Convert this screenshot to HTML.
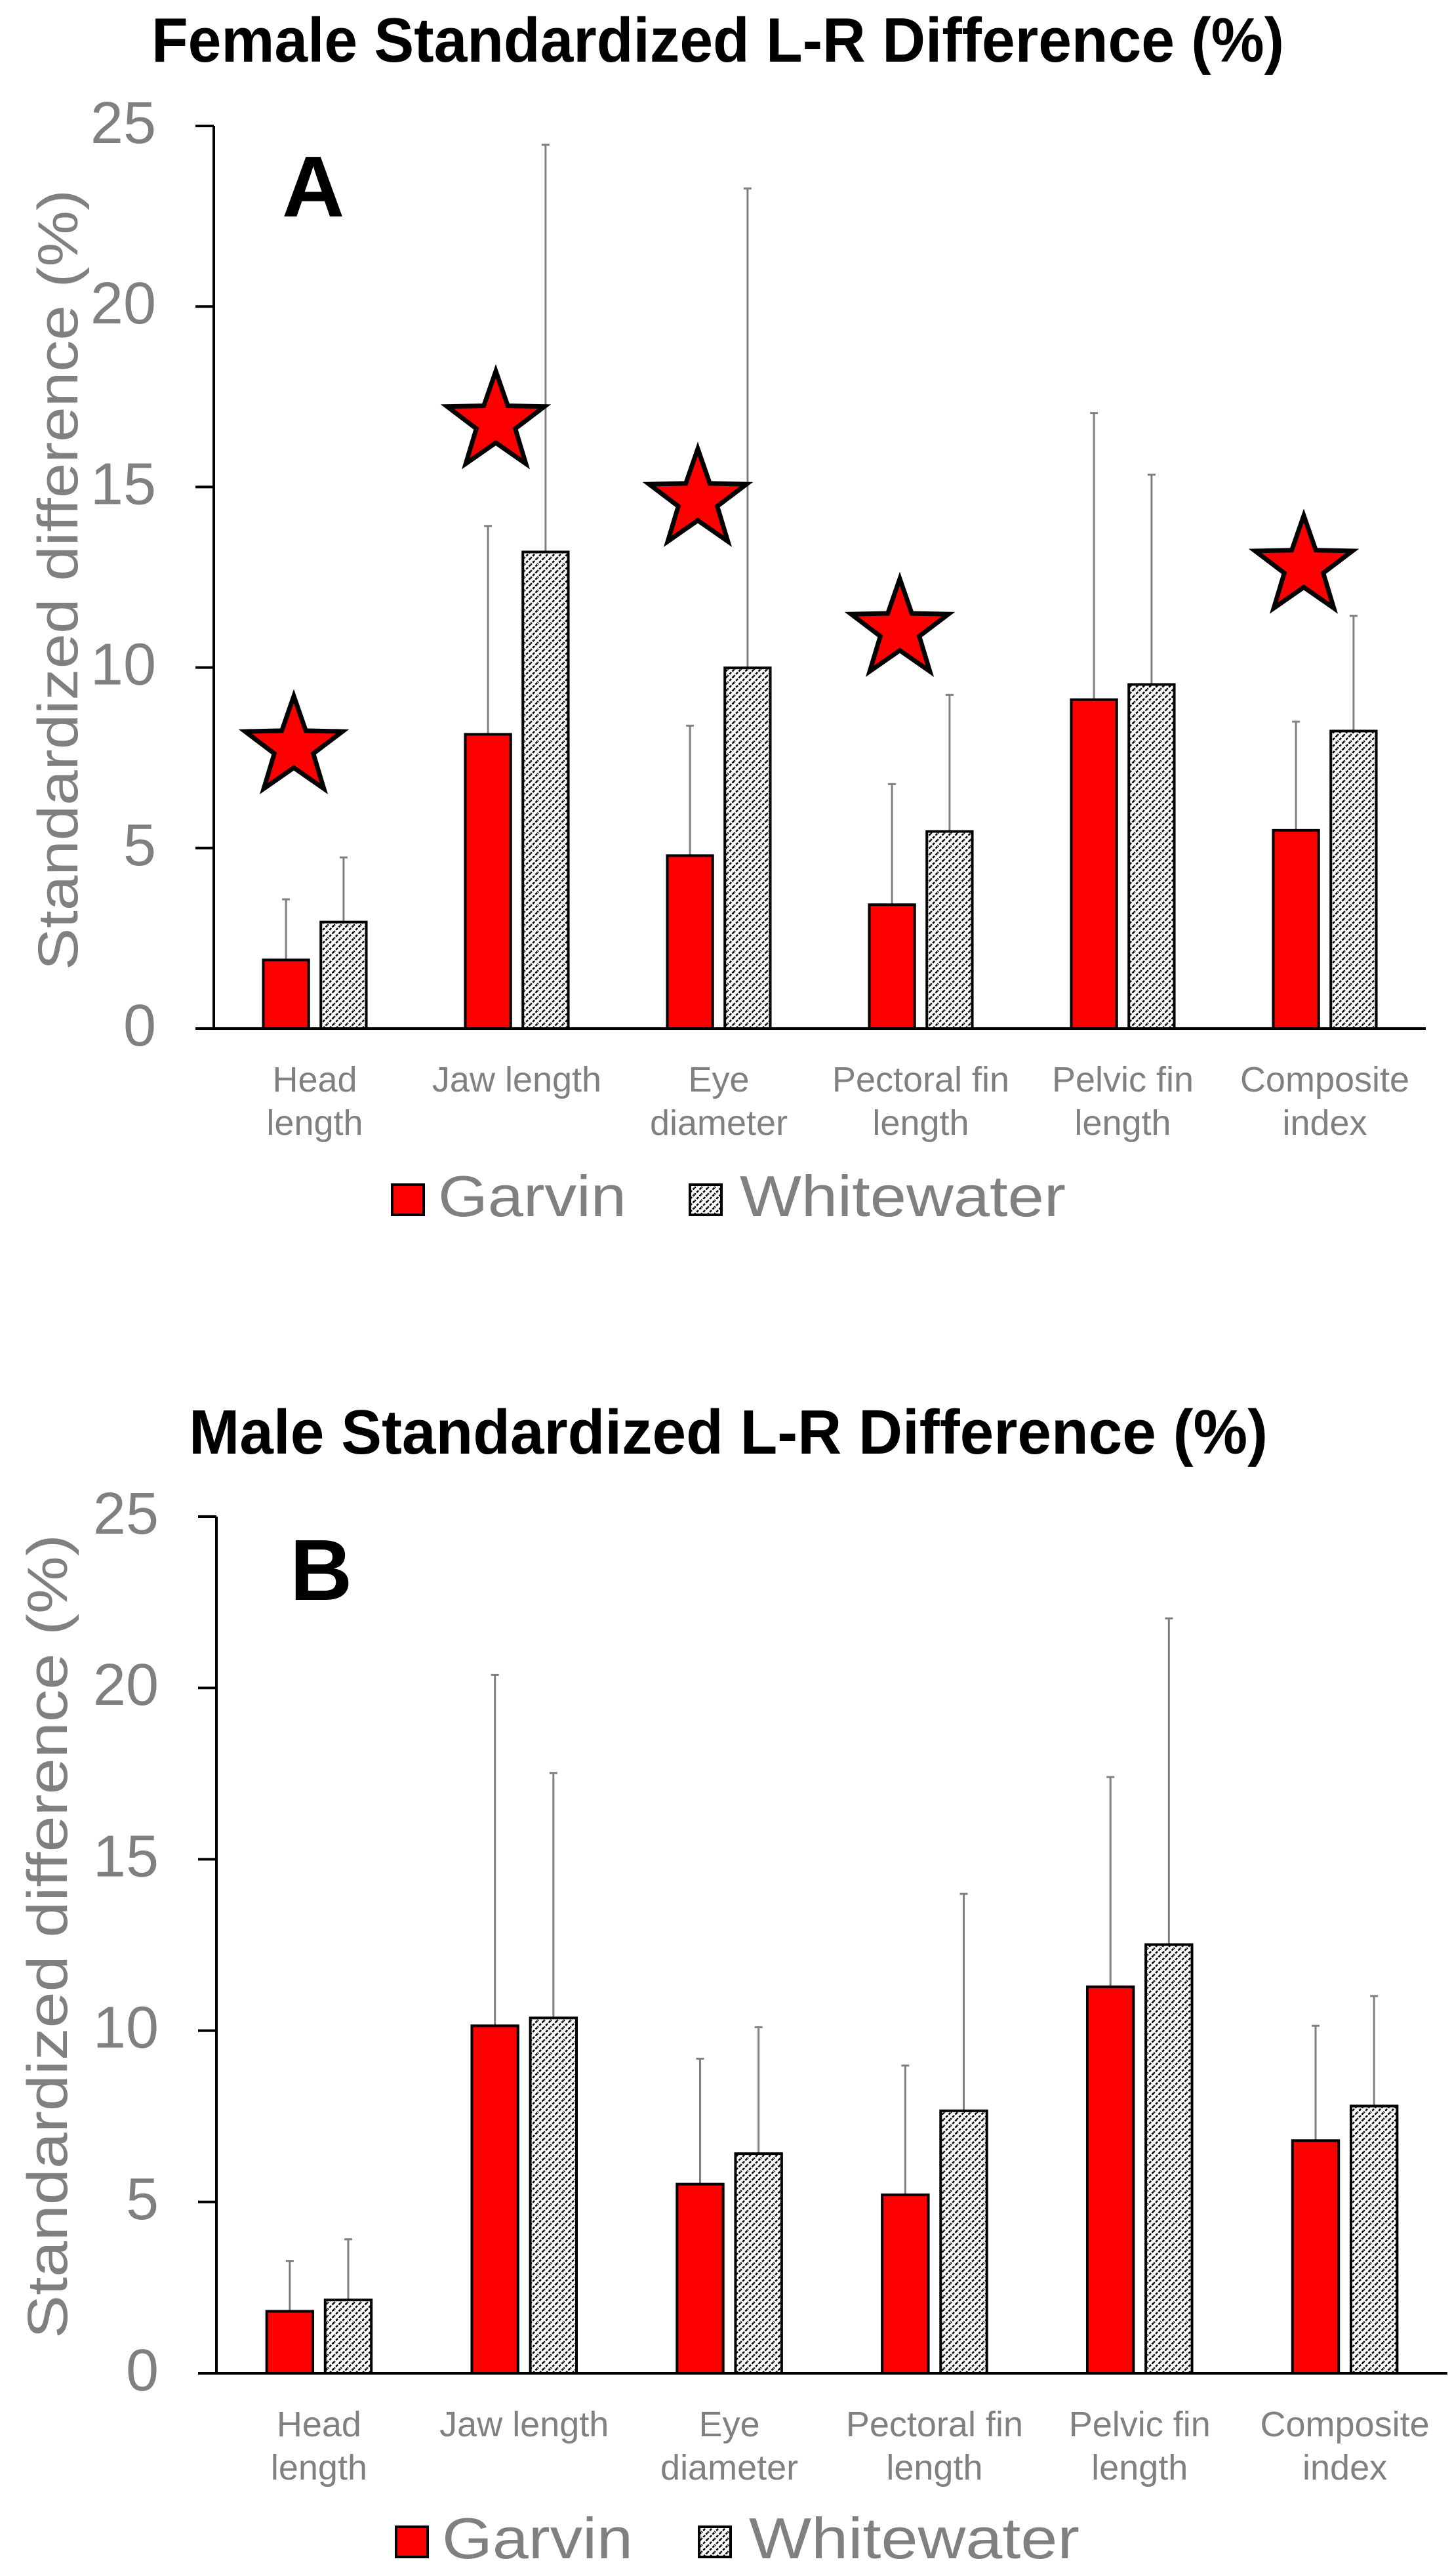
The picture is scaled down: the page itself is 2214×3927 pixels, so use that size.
<!DOCTYPE html>
<html><head><meta charset="utf-8"><style>
html,body{margin:0;padding:0;background:#fff;}
svg{display:block;font-family:"Liberation Sans","DejaVu Sans",sans-serif;}
</style></head><body>
<svg id="fig" width="2214" height="3927" viewBox="0 0 2214 3927" xmlns="http://www.w3.org/2000/svg">
<defs>
<pattern id="hatch" patternUnits="userSpaceOnUse" width="10" height="10">
<rect width="10" height="10" fill="#fff"/>
<path d="M-2,12 L12,-2 M-2,2 L2,-2 M8,12 L12,8" stroke="#000" stroke-width="2.6" stroke-dasharray="4,2"/>
</pattern>
</defs>
<g id="chartA"></g>
<g id="chartB"></g>
</svg>
<script>
const categories = [["Head","length"],["Jaw length"],["Eye","diameter"],["Pectoral fin","length"],["Pelvic fin","length"],["Composite","index"]];
const yTicks = [0,5,10,15,20,25];
const femaleGarvin = [1.9, 8.15, 4.79, 3.43, 9.11, 5.49];
const femaleGarvinErr = [3.58, 13.92, 8.39, 6.77, 17.05, 8.5];
const femaleWhite = [2.95, 13.2, 9.99, 5.46, 9.53, 8.24];
const femaleWhiteErr = [4.74, 24.48, 23.27, 9.24, 15.34, 11.43];
const femaleStars = [7.9, 16.9, 14.75, 11.15, null, 12.9];
const maleGarvin = [1.81, 10.14, 5.52, 5.21, 11.28, 6.79];
const maleGarvinErr = [3.28, 20.38, 9.18, 8.98, 17.4, 10.14];
const maleWhite = [2.14, 10.37, 6.41, 7.66, 12.51, 7.8];
const maleWhiteErr = [3.91, 17.52, 10.1, 13.99, 22.03, 11.01];

const NS = "http://www.w3.org/2000/svg";
function mk(parent, tag, attrs, text){
  const e = document.createElementNS(NS, tag);
  for (const k in attrs) e.setAttribute(k, attrs[k]);
  if (text !== undefined) e.textContent = text;
  parent.appendChild(e);
  return e;
}
function starPts(cx, cy, R){
  const r = R*0.4, p = [];
  for (let i=0;i<10;i++){
    const a = -Math.PI/2 + i*Math.PI/5, rr = i%2===0?R:r;
    p.push((cx+rr*Math.cos(a)).toFixed(1)+","+(cy+rr*Math.sin(a)).toFixed(1));
  }
  return p.join(" ");
}
function draw(g, cfg){
  const {x0,x1,yTop,yZero,title,titleX,titleW,titleY,letter,letterX,letterY,ytX,ytY,ytLen,G,GE,W,WE,stars,leg} = cfg;
  const ys = v => yZero - (v/25)*(yZero-yTop);
  const band = (x1-x0)/categories.length;
  const cx = i => x0 + band*(i+0.5);
  const bw = band*0.225, gap = band*0.03;

  let t = mk(g,"text",{x:titleX,y:titleY,"font-size":96,"font-weight":"bold",fill:"#000",textLength:titleW,lengthAdjust:"spacingAndGlyphs"},title);
  
  

  t = mk(g,"text",{x:ytX,y:ytY,"font-size":86,fill:"#808080","text-anchor":"middle",transform:`rotate(-90 ${ytX} ${ytY})`,textLength:ytLen,lengthAdjust:"spacingAndGlyphs"},"Standardized difference (%)");
  
  

  yTicks.forEach(v=>{
    const y = ys(v);
    const l = mk(g,"line",{x1:x0-28,x2:x0,y1:y,y2:y,stroke:"#000","stroke-width":4});
    
    
    const tl = mk(g,"text",{x:x0-88,y:y+26,"font-size":90,fill:"#808080","text-anchor":"end"},String(v));
    
    
  });

  categories.forEach((lines,i)=>{
    const c = cx(i);
    [[c-gap-bw/2,G[i],GE[i]],[c+gap+bw/2,W[i],WE[i]]].forEach(([ex,v,e])=>{
      const eb = mk(g,"path",{d:`M${ex},${ys(v)} V${ys(e)} M${ex-6},${ys(e)} H${ex+6}`,stroke:"#808080","stroke-width":3,fill:"none"});
      
      
    });
    const b1 = mk(g,"rect",{x:c-gap-bw,y:ys(G[i]),width:bw,height:ys(0)-ys(G[i]),fill:"#ff0000",stroke:"#000","stroke-width":4});
    
    
    const b2 = mk(g,"rect",{x:c+gap,y:ys(W[i]),width:bw,height:ys(0)-ys(W[i]),fill:"url(#hatch)",stroke:"#000","stroke-width":4});
    
    
    if (stars && stars[i] !== null){
      const s = mk(g,"polygon",{points:starPts(c-32, ys(stars[i])+6, 78),fill:"#ff0000",stroke:"#000","stroke-width":7,"stroke-linejoin":"miter"});
      
      
    }
    lines.forEach((ln,k)=>{
      const cl = mk(g,"text",{x:c,y:yZero+96+k*66,"font-size":54,fill:"#808080","text-anchor":"middle"},ln);
      
      
    });
  });

  const ax = mk(g,"path",{d:`M${x0},${yTop} V${yZero} H${x1}`,stroke:"#000","stroke-width":4,fill:"none"});
  
  

  t = mk(g,"text",{x:letterX,y:letterY,"font-size":132,"font-weight":"bold",fill:"#000"},letter);
  
  

  const lg = mk(g,"g",{});
  
  
  const r1 = mk(lg,"rect",{x:leg.gx,y:leg.y,width:48,height:46,fill:"#ff0000",stroke:"#000","stroke-width":4});
  
  
  const t1 = mk(lg,"text",{x:leg.gx+70,y:leg.y+48,"font-size":88,fill:"#808080",textLength:leg.gw,lengthAdjust:"spacingAndGlyphs"},"Garvin");
  
  
  const r2 = mk(lg,"rect",{x:leg.wx,y:leg.y,width:48,height:46,fill:"url(#hatch)",stroke:"#000","stroke-width":4});
  
  
  const t2 = mk(lg,"text",{x:leg.wx+76,y:leg.y+48,"font-size":88,fill:"#808080",textLength:leg.ww,lengthAdjust:"spacingAndGlyphs"},"Whitewater");
  
  
}

draw(document.getElementById("chartA"),{
  x0:326,x1:2174,yTop:192,yZero:1568,
  title:"Female Standardized L-R Difference (%)",titleX:231,titleW:1727,titleY:94,
  letter:"A",letterX:430,letterY:330,
  ytX:118,ytY:884,ytLen:1190,
  G:femaleGarvin,GE:femaleGarvinErr,W:femaleWhite,WE:femaleWhiteErr,stars:femaleStars,
  leg:{gx:598,wx:1052,y:1806,gw:287,ww:497}
});
draw(document.getElementById("chartB"),{
  x0:330,x1:2207,yTop:2312,yZero:3618,
  title:"Male Standardized L-R Difference (%)",titleX:288,titleW:1645,titleY:2216,
  letter:"B",letterX:442,letterY:2439,
  ytX:102,ytY:2952,ytLen:1226,
  G:maleGarvin,GE:maleGarvinErr,W:maleWhite,WE:maleWhiteErr,stars:null,
  leg:{gx:604,wx:1066,y:3852,gw:291,ww:504}
});
</script>
</body></html>
